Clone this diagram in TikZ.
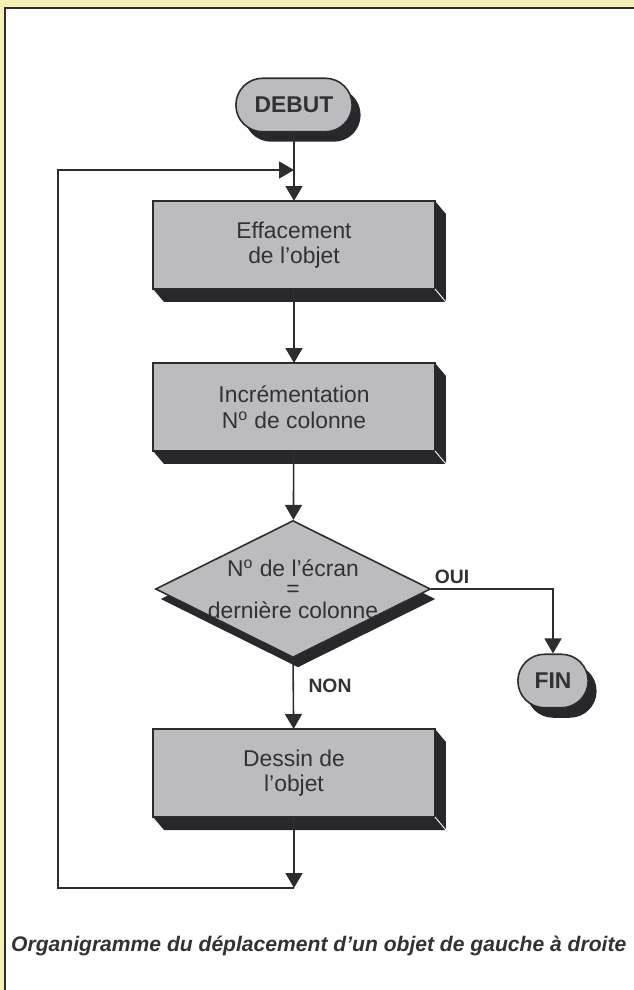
\documentclass[tikz,border=0pt]{standalone}
\usepackage{fontspec}
\setmainfont{Liberation Sans}
\usepackage{xcolor}
\usepackage{tikz}
\usetikzlibrary{arrows.meta,positioning,calc,shapes.geometric,shapes.misc,shadows}

\definecolor{fond}{RGB}{247,240,182}
\definecolor{gristrait}{RGB}{45,45,48}
\definecolor{grisface}{RGB}{188,188,190}
\definecolor{grisombre}{RGB}{40,40,44}
\definecolor{encre}{RGB}{50,50,52}

% 3D edge under and to the right of a box
\newcommand{\relief}[1]{%
  \fill[grisombre] (#1.south west) -- (#1.south east) -- ++(11,13)
    -- ($(#1.south west)+(11,13)$) -- cycle;
  \fill[grisombre] (#1.north east) -- ++(11,13)
    -- ($(#1.south east)+(11,13)$) -- (#1.south east) -- cycle;
  \draw[white,line width=0.5pt] (#1.south east) -- ++(11,13);}

\begin{document}
\begin{tikzpicture}[
  x=0.02cm,y=-0.02cm,
  fleche/.style={-{Triangle[length=3mm,width=3.4mm]},line width=0.9pt,draw=gristrait},
  trait/.style={line width=0.9pt,draw=gristrait},
  boite/.style={draw=gristrait,line width=0.9pt,fill=grisface,outer sep=0pt,
                minimum width=5.64cm,minimum height=1.76cm,align=center,
                text=encre,font=\fontsize{13}{14.5}\selectfont},
  borne/.style={rounded rectangle,draw=gristrait,line width=0.9pt,fill=grisface,
                minimum height=1.07cm,text=encre,
                font=\fontsize{13}{13}\selectfont\bfseries,
                drop shadow={shadow xshift=0.17cm,shadow yshift=-0.2cm,
                             fill=grisombre,opacity=1}},
  losange/.style={diamond,draw=gristrait,line width=0.9pt,fill=grisface,
                  minimum width=5.5cm,minimum height=2.74cm,inner sep=-8pt,
                  aspect=2,align=center,text=encre,
                  font=\fontsize{13}{10.5}\selectfont,
                  drop shadow={shadow xshift=0.1cm,shadow yshift=-0.2cm,
                               fill=grisombre,opacity=1}},
  etiq/.style={text=encre,font=\fontsize{11}{11}\selectfont\bfseries},
  legende/.style={text=encre,font=\fontsize{12}{12}\selectfont\bfseries\itshape}
]
\useasboundingbox (0,0) rectangle (634,990);
\clip (0,0) rectangle (634,990);
% page and frame
\fill[fond] (0,0) rectangle (634,990);
\filldraw[fill=white,draw=gristrait,line width=1pt] (5,8) rectangle (680,1030);

% Steps
\node[borne,minimum width=2.56cm] (debut) at (294,105) {DEBUT};
\node[boite] (efface) at (294,245) {Effacement\\de l’objet};
\relief{efface}
\node[boite] (incr) at (294,407) {Incrémentation\\N\textsuperscript{o} de colonne};
\relief{incr}
\node[losange] (test) at (293,589)
  {N\textsuperscript{o} de l’écran\\[1pt]=\\[2pt]dernière colonne};
\node[boite] (dessin) at (294,773) {Dessin de\\l’objet};
\relief{dessin}
\node[borne,minimum width=1.64cm] (fin) at (553,681) {FIN};

% Connectors
\coordinate (entree) at (294,170);
\coordinate (bas) at (294,888);
\coordinate (coinbas) at (58,888);
\coordinate (coinhaut) at (58,170);
\draw[fleche] (debut) -- (efface);
\draw[fleche] (efface) -- (incr);
\draw[fleche] (incr) -- (test);
\draw[fleche] (test.east) -| (fin.north);
\draw[fleche] (test.south) -- (dessin);
\draw[fleche] (dessin) -- (bas);
\draw[fleche] (bas) -- (coinbas) -- (coinhaut) -- (entree);

\node[etiq] (oui) at (452,577) {OUI};
\node[etiq] (non) at (330,686) {NON};

\node[legende,anchor=west] (titre) at (5,946)
  {Organigramme du déplacement d’un objet de gauche à droite};
\end{tikzpicture}
\end{document}
